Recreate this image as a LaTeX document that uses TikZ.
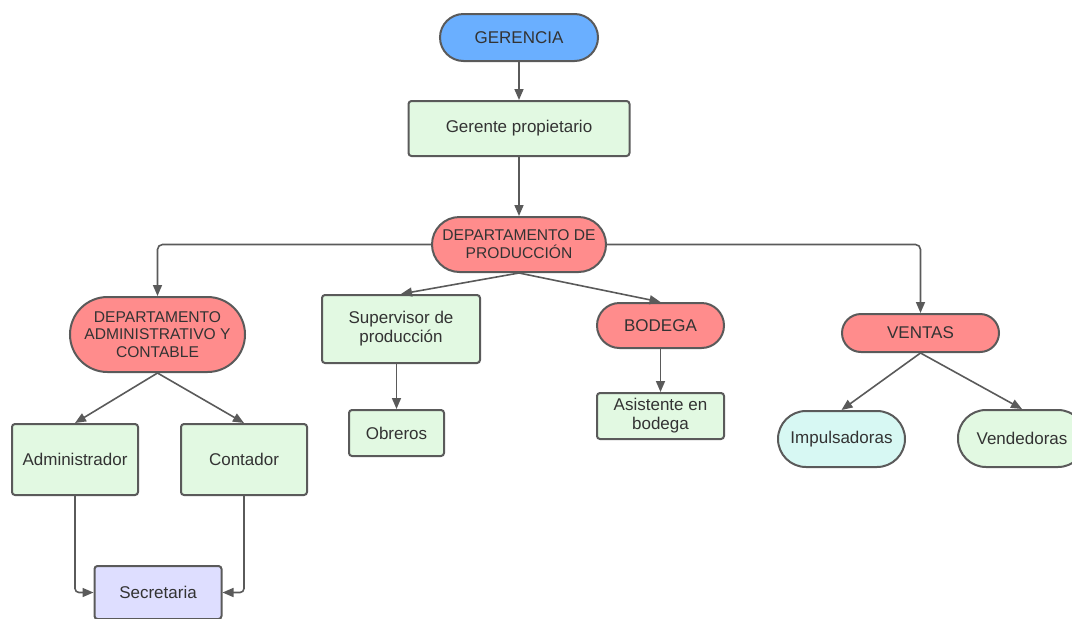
\documentclass[tikz,border=0pt]{standalone}
\usepackage{fontspec}
\setmainfont{Liberation Sans}
\usetikzlibrary{arrows.meta}
\definecolor{txt}{HTML}{333333}
\definecolor{edge}{HTML}{5A5A5A}
\definecolor{blueF}{HTML}{6AAFFF}
\definecolor{redF}{HTML}{FF8C8C}
\definecolor{greenF}{HTML}{E2F9E2}
\definecolor{cyanF}{HTML}{D7F8F3}
\definecolor{lavF}{HTML}{DEDEFF}
\tikzset{
  base/.style={draw=edge, line width=2pt, text=txt, align=center, inner sep=0pt,
    font=\fontsize{17}{19}\selectfont},
  gbox/.style={base, fill=greenF, rounded corners=3pt},
  pill/.style={base, rounded corners=#1},
  dept/.style={font=\fontsize{15.6}{17.8}\selectfont},
  arr/.style={draw=edge, line width=1.6pt, -{Triangle[length=11pt,width=9pt]}},
}
\begin{document}
\begin{tikzpicture}[x=1pt,y=-1pt]
\useasboundingbox (0,0) rectangle (1072,619);
\node[pill=23.5pt, fill=blueF, minimum width=158pt, minimum height=47pt] (ger) at (519,37.5) {GERENCIA};
\node[gbox, minimum width=221pt, minimum height=55pt] (gp) at (519,128.5) {Gerente propietario};
\node[pill=27.5pt, fill=redF, dept, minimum width=174pt, minimum height=55pt] (dp) at (519,244.5) {DEPARTAMENTO DE\\PRODUCCIÓN};
\node[pill=37.5pt, fill=redF, dept, minimum width=175pt, minimum height=75pt] (da) at (157.5,334.5) {DEPARTAMENTO\\ADMINISTRATIVO Y\\CONTABLE};
\node[gbox, minimum width=126pt, minimum height=71pt] (adm) at (75,459.5) {Administrador};
\node[gbox, minimum width=126pt, minimum height=71pt] (con) at (244,459.5) {Contador};
\node[base, fill=lavF, rounded corners=3pt, minimum width=127pt, minimum height=53pt] (sec) at (158,592.5) {Secretaria};
\node[gbox, minimum width=158pt, minimum height=68pt] (sup) at (401,329) {Supervisor de\\producción};
\node[gbox, minimum width=95pt, minimum height=46pt] (obr) at (396.5,433) {Obreros};
\node[pill=22.5pt, fill=redF, minimum width=127pt, minimum height=45pt] (bod) at (660.5,325.5) {BODEGA};
\node[gbox, minimum width=127pt, minimum height=46pt] (asi) at (660.5,416) {Asistente en\\bodega};
\node[pill=19pt, fill=redF, minimum width=157pt, minimum height=38pt] (ven) at (920.5,333) {VENTAS};
\node[pill=28pt, fill=cyanF, minimum width=127pt, minimum height=56pt] (imp) at (841.5,439) {Impulsadoras};
\node[pill=28pt, fill=greenF, minimum width=128pt, minimum height=57pt] (vnd) at (1022,438.5) {Vendedoras};

\draw[arr] (ger) -- (gp);
\draw[arr] (gp) -- (dp);
\draw[arr, rounded corners=5pt] (dp.west) -| (da.north);
\draw[arr, rounded corners=5pt] (dp.east) -| (ven.north);
\draw[arr] (dp.south) -- (sup.north);
\draw[arr] (dp.south) -- (bod.north);
\draw[arr] (da.south) -- (adm.north);
\draw[arr] (da.south) -- (con.north);
\draw[arr, rounded corners=4pt] (adm.south) |- (sec.west);
\draw[arr, rounded corners=4pt] (con.south) |- (sec.east);
\draw[arr] (obr.north |- sup.south) -- (obr.north);
\draw[arr] (bod) -- (asi);
\draw[arr] (ven.south) -- (imp.north);
\draw[arr] (ven.south) -- (vnd.north);
\end{tikzpicture}
\end{document}
